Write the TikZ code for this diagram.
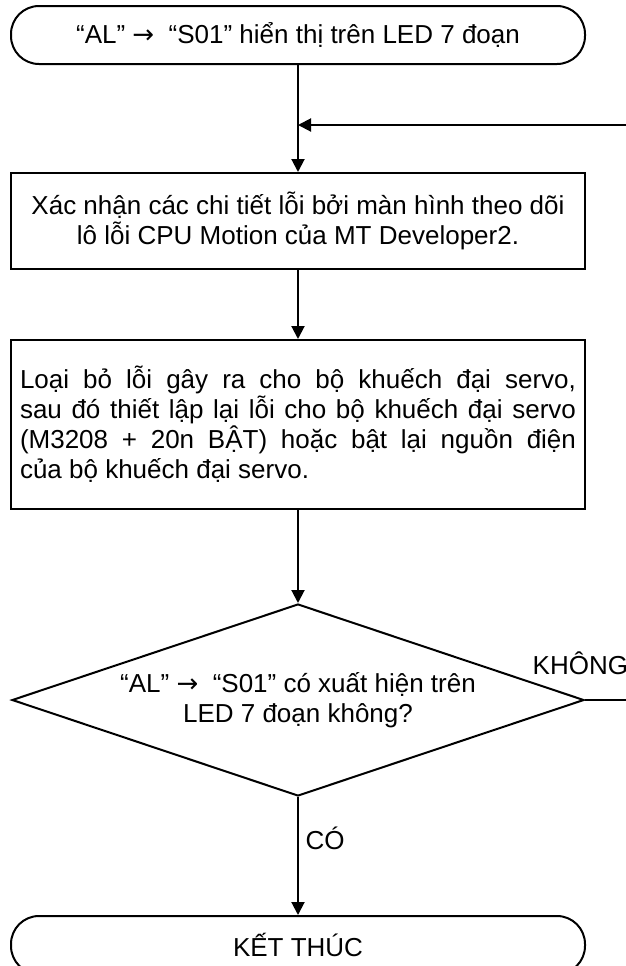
\documentclass[tikz,border=0pt]{standalone}
\usepackage{fontspec}
\setmainfont{Liberation Sans}
\newfontfamily\arrowfont{DejaVu Sans}
\newcommand{\goesto}{{\arrowfont →}}
\usetikzlibrary{arrows.meta,shapes.geometric}

\tikzset{
  term/.style={draw, rounded corners=14pt, minimum width=287pt, minimum height=29pt},
  stepbox/.style={draw, minimum width=287pt},
  decide/.style={draw, diamond, aspect=3, minimum width=286pt, minimum height=96pt, inner sep=0pt, align=center},
}

\begin{document}
\begin{tikzpicture}[x=0.5pt, y=-0.5pt, line width=1pt,
    >={Triangle[length=6.5pt, width=6.5pt]},
    font=\fontsize{13}{15}\selectfont]
  \useasboundingbox (0,0) rectangle (626,966);
  \node[term] (start) at (298,35) {“AL” \goesto\ \ “S01” hiển thị trên LED 7 đoạn};
  \node[stepbox, minimum height=48pt, align=center] (check) at (298,221)
    {Xác nhận các chi tiết lỗi bởi màn hình theo dõi\\lô lỗi CPU Motion của MT Developer2.};
  \node[stepbox, minimum height=84.5pt, text width=278pt, align=justify] (reset) at (298,424.5)
    {\hyphenpenalty=10000 Loại~bỏ~lỗi~gây~ra~cho~bộ~khuếch~đại~servo,\linebreak
     sau~đó~thiết~lập~lại~lỗi~cho~bộ~khuếch~đại~servo\linebreak
     (M3208~+~20n~BẬT)~hoặc~bật~lại~nguồn~điện\linebreak
     của bộ khuếch đại servo.};
  \node[decide] (ask) at (298,700) {“AL” \goesto\ \ “S01” có xuất hiện trên\\LED 7 đoạn không?};
  \node[term] (stop) at (298,945) {KẾT THÚC};
  \coordinate (back) at (298,125);
  \node[anchor=west] (no) at (525,663) {KHÔNG};

  \draw[->] (start) -- (check);
  \draw[->] (check) -- (reset);
  \draw[->] (reset) -- (ask);
  \draw[->] (ask) -- node[right, pos=0.35] (yes) {CÓ} (stop);
  \draw[->] (ask.east) -- (660,700) |- (back);
\end{tikzpicture}
\end{document}
